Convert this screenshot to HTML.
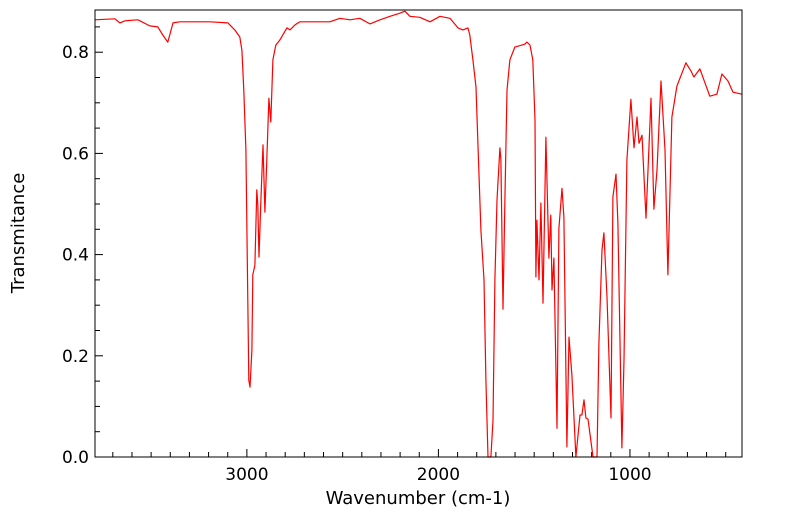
<!DOCTYPE html>
<html><head><meta charset="utf-8"><style>
body{margin:0;background:#fff;}
svg{display:block;font-family:"DejaVu Sans","Liberation Sans",sans-serif;}
</style></head><body>
<svg id="chart" width="799" height="516" viewBox="0 0 799 516">
<g id="axes"></g>
<path id="line" fill="none" stroke="#ff0000" stroke-width="1.2" stroke-linejoin="round"/>
<rect x="95" y="10" width="647" height="447" fill="none" stroke="#000" stroke-width="1"/>
<text x="418" y="504" text-anchor="middle" font-size="18">Wavenumber (cm-1)</text>
<text transform="translate(24,233) rotate(-90)" text-anchor="middle" font-size="18">Transmitance</text>
</svg>
<script>
const wavenumbers=[3794,3689,3663,3637,3569,3507,3465,3439,3413,3386,3350,3193,3099,3063,3037,3026,3016,3005,2995,2990,2984,2974,2969,2958,2948,2943,2937,2927,2916,2906,2896,2885,2875,2864,2849,2828,2791,2775,2749,2723,2567,2514,2462,2410,2358,2305,2253,2201,2175,2149,2097,2044,1992,1940,1898,1872,1846,1836,1820,1804,1794,1778,1762,1752,1741,1726,1715,1705,1694,1679,1674,1663,1653,1642,1627,1601,1564,1548,1538,1522,1507,1496,1491,1486,1475,1465,1454,1439,1423,1413,1407,1397,1381,1371,1355,1345,1329,1318,1303,1282,1261,1251,1240,1230,1219,1193,1172,1162,1146,1136,1120,1099,1089,1073,1063,1042,1031,1016,995,979,963,953,937,916,890,875,859,838,817,802,781,755,708,682,666,635,583,546,520,488,462,415];
const transmittance=[0.864,0.866,0.858,0.862,0.864,0.852,0.850,0.834,0.820,0.858,0.860,0.860,0.858,0.844,0.830,0.804,0.725,0.607,0.310,0.152,0.138,0.211,0.360,0.379,0.528,0.498,0.395,0.508,0.617,0.484,0.587,0.709,0.662,0.785,0.814,0.824,0.848,0.844,0.854,0.860,0.860,0.867,0.864,0.867,0.856,0.864,0.871,0.877,0.881,0.871,0.869,0.860,0.871,0.867,0.848,0.844,0.848,0.834,0.785,0.731,0.620,0.449,0.350,0.152,0.0,0.0,0.073,0.350,0.508,0.611,0.587,0.292,0.508,0.725,0.785,0.810,0.814,0.816,0.820,0.814,0.785,0.666,0.356,0.468,0.350,0.502,0.304,0.632,0.393,0.478,0.330,0.393,0.057,0.452,0.531,0.474,0.020,0.237,0.162,0.0,0.083,0.083,0.113,0.077,0.075,0.0,0.0,0.225,0.409,0.443,0.316,0.077,0.514,0.559,0.462,0.018,0.192,0.587,0.707,0.611,0.672,0.620,0.636,0.472,0.709,0.490,0.567,0.743,0.607,0.360,0.672,0.733,0.779,0.763,0.751,0.767,0.713,0.717,0.757,0.743,0.721,0.717];
const xTicks=[3000,2000,1000];
const yTicks=[0.0,0.2,0.4,0.6,0.8];
const X0=95,X1=742,Y0=457,Y1=10,W0=3793,W1=415,T0=0,T1=0.8834;
const sx=w=>X0+(W0-w)/(W0-W1)*(X1-X0);
const sy=t=>Y0-(t-T0)/(T1-T0)*(Y0-Y1);
const NS="http://www.w3.org/2000/svg";
const axes=document.getElementById('axes');
function mk(tag,attrs){const e=document.createElementNS(NS,tag);for(const k in attrs)e.setAttribute(k,attrs[k]);axes.appendChild(e);return e;}
for(let w=3700;w>=500;w-=100){
  const major=w%1000===0;
  const t=mk('line',{x1:sx(w),x2:sx(w),y1:Y0,y2:Y0-(major?8:5),stroke:'#000','stroke-width':1});
  
  
}
xTicks.forEach(w=>{
  const t=mk('text',{x:sx(w),y:Y0+23,'text-anchor':'middle','font-size':17});
  t.textContent=String(w);
  
  
});
for(let i=0;i<=17;i++){
  const v=i*0.05;
  const major=i%4===0;
  const t=mk('line',{x1:X0,x2:X0+(major?8:5),y1:sy(v),y2:sy(v),stroke:'#000','stroke-width':1});
  
  
}
yTicks.forEach(v=>{
  const t=mk('text',{x:X0-6,y:sy(v)+6,'text-anchor':'end','font-size':17});
  t.textContent=v.toFixed(1);
  
  
});
let d='';
wavenumbers.forEach((w,i)=>{d+=(i?'L':'M')+sx(w).toFixed(1)+','+sy(transmittance[i]).toFixed(1);});
document.getElementById('line').setAttribute('d',d);
</script>
</body></html>
